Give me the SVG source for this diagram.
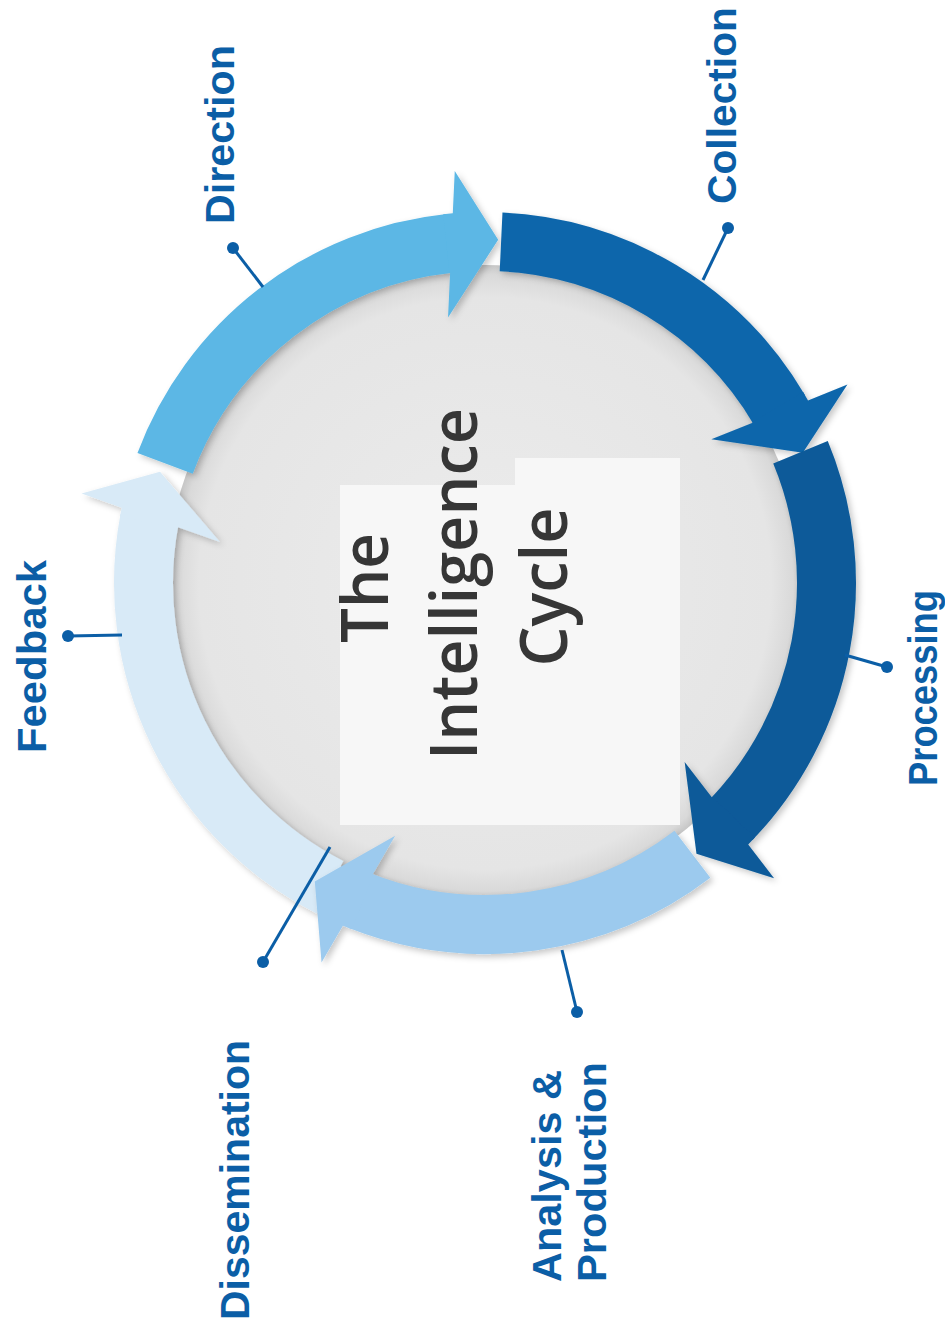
<svg xmlns="http://www.w3.org/2000/svg" width="945" height="1337" viewBox="0 0 945 1337">
<style>
.label{font-family:"Liberation Sans",Arial,sans-serif;font-weight:bold;font-size:41px;fill:#0b5ea6}
.title{font-family:"Open Sans","Noto Sans",sans-serif;font-weight:600;font-size:66px;fill:#363636;text-anchor:middle}
.shaft{fill:none;stroke-width:59}
.lead{stroke:#0b5ea6;stroke-width:3;fill:none}
.dot{fill:#0b5ea6}
</style>
<defs>
<path id="ring" d="M341.5 0A341.5 341.5 0 1 1 -341.5 0A341.5 341.5 0 1 1 341.5 0"/>
<polygon id="head" points="312,-3 312,-2.3 268,-9 340,49 413,13 371,6.6 371,-3"/>
<radialGradient id="disc" cx="485" cy="583" r="318" gradientUnits="userSpaceOnUse">
<stop offset="0" stop-color="#ececec"/>
<stop offset="0.9" stop-color="#e5e5e5"/>
<stop offset="0.97" stop-color="#d9d9d9"/>
<stop offset="1" stop-color="#c6c6c6"/>
</radialGradient>
<filter id="sh" x="-20%" y="-20%" width="140%" height="140%">
<feDropShadow dx="3" dy="3" stdDeviation="3" flood-color="#000" flood-opacity="0.22"/>
</filter>
</defs>
<rect width="945" height="1337" fill="#ffffff"/>

<g id="disc-node">
<circle cx="485" cy="583" r="318" fill="url(#disc)"/>
</g>

<g id="feedback-arrow" filter="url(#sh)">
<g transform="translate(485 583)" fill="#d8eaf7" stroke="#d8eaf7">
<use href="#ring" class="shaft" transform="rotate(117)" stroke-dasharray="439.3 3000"/>
<use href="#head" transform="rotate(190.7)" stroke="none"/>
</g>
</g>
<g id="analysis-arrow" filter="url(#sh)">
<g transform="translate(485 583)" fill="#9ccaee" stroke="#9ccaee">
<use href="#ring" class="shaft" transform="rotate(52.6)" stroke-dasharray="351.1 3000"/>
<use href="#head" transform="rotate(111.5)" stroke="none"/>
</g>
</g>
<g id="direction-arrow" filter="url(#sh)">
<g transform="translate(485 583)" fill="#5bb7e5" stroke="#5bb7e5">
<use href="#ring" class="shaft" transform="rotate(-159.5)" stroke-dasharray="378.5 3000"/>
<use href="#head" transform="rotate(-96)" stroke="none"/>
</g>
</g>
<g id="collection-arrow" filter="url(#sh)">
<g transform="translate(485 583)" fill="#0c66ab" stroke="#0c66ab">
<use href="#ring" class="shaft" transform="rotate(-87.3)" stroke-dasharray="338.5 3000"/>
<use href="#head" transform="rotate(-30.5)" stroke="none"/>
</g>
</g>
<g id="processing-arrow" filter="url(#sh)">
<g transform="translate(485 583)" fill="#0a5a99" stroke="#0a5a99">
<use href="#ring" class="shaft" transform="rotate(-22.5)" stroke-dasharray="395.2 3000"/>
<use href="#head" transform="rotate(43.8)" stroke="none"/>
</g>
</g>

<g id="title">
<polygon points="340,485 515,485 515,458 680,458 680,825 340,825" fill="#f7f7f7"/>
<text class="title" transform="translate(388 588) rotate(-90)" textLength="110" lengthAdjust="spacingAndGlyphs">The</text>
<text class="title" transform="translate(477 584) rotate(-90)" textLength="352" lengthAdjust="spacingAndGlyphs">Intelligence</text>
<text class="title" transform="translate(567 587) rotate(-90)" textLength="159" lengthAdjust="spacingAndGlyphs">Cycle</text>
</g>

<g id="connectors">
<line class="lead" x1="233" y1="248" x2="263" y2="287"/>
<circle class="dot" cx="233" cy="248" r="6"/>
<line class="lead" x1="728" y1="228" x2="703" y2="280"/>
<circle class="dot" cx="728" cy="228" r="6"/>
<line class="lead" x1="887" y1="667" x2="845" y2="655"/>
<circle class="dot" cx="887" cy="667" r="6"/>
<line class="lead" x1="577" y1="1012" x2="562" y2="950"/>
<circle class="dot" cx="577" cy="1012" r="6"/>
<line class="lead" x1="263" y1="962" x2="330" y2="847"/>
<circle class="dot" cx="263" cy="962" r="6"/>
<line class="lead" x1="68" y1="636" x2="122" y2="635"/>
<circle class="dot" cx="68" cy="636" r="6"/>
</g>

<g id="label-direction"><text class="label" transform="translate(234 224) rotate(-90)" textLength="179" lengthAdjust="spacingAndGlyphs">Direction</text></g>
<g id="label-collection"><text class="label" transform="translate(736 204) rotate(-90)" textLength="197" lengthAdjust="spacingAndGlyphs">Collection</text></g>
<g id="label-processing"><text class="label" transform="translate(937 786) rotate(-90)" textLength="196" lengthAdjust="spacingAndGlyphs">Processing</text></g>
<g id="label-analysis">
<text class="label" transform="translate(561 1282) rotate(-90)" textLength="212" lengthAdjust="spacingAndGlyphs">Analysis &amp;</text>
<text class="label" transform="translate(606 1282) rotate(-90)" textLength="220" lengthAdjust="spacingAndGlyphs">Production</text>
</g>
<g id="label-dissemination"><text class="label" transform="translate(249 1320) rotate(-90)" textLength="280" lengthAdjust="spacingAndGlyphs">Dissemination</text></g>
<g id="label-feedback"><text class="label" transform="translate(46 753) rotate(-90)" textLength="193" lengthAdjust="spacingAndGlyphs">Feedback</text></g>
</svg>
